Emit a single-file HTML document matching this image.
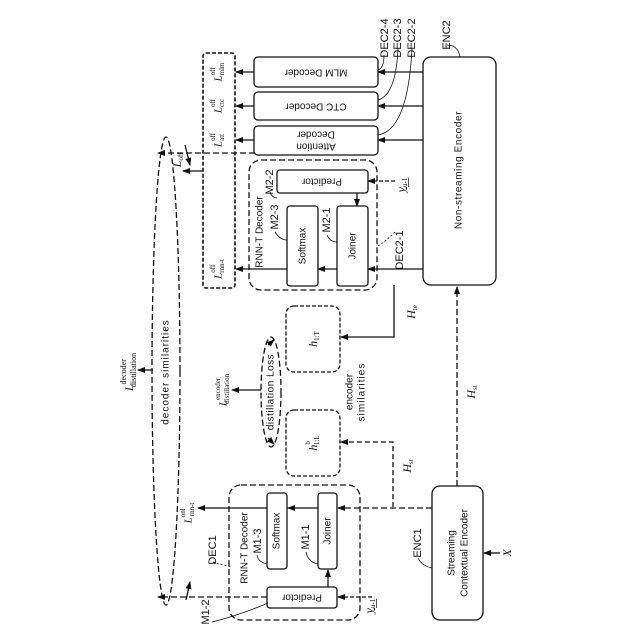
<!DOCTYPE html>
<html><head><meta charset="utf-8"><style>
html,body{margin:0;padding:0;background:#fff}
svg{display:block}
text{font-family:"Liberation Sans",sans-serif;fill:#111}
.s{font-family:"Liberation Serif",serif;font-style:italic}
</style></head><body>
<svg width="640" height="640" viewBox="0 0 640 640" xmlns="http://www.w3.org/2000/svg">
<defs>
<marker id="a" markerWidth="8" markerHeight="6" refX="7" refY="3" orient="auto" markerUnits="userSpaceOnUse"><path d="M0,0 L8,3 L0,6 z" fill="#111"/></marker>
</defs>
<g fill="none" stroke="#111" stroke-width="1.3">
<rect x="423" y="57" width="73" height="228" rx="8"/>
<rect x="254" y="57" width="124" height="30" rx="4"/>
<rect x="254" y="92" width="124" height="28" rx="4"/>
<rect x="254" y="126" width="124" height="29" rx="4"/>
<line x1="423" y1="72" x2="378" y2="72" marker-end="url(#a)"/>
<line x1="423" y1="106" x2="378" y2="106" marker-end="url(#a)"/>
<line x1="423" y1="140" x2="378" y2="140" marker-end="url(#a)"/>
<line x1="254" y1="72" x2="236" y2="72" marker-end="url(#a)"/>
<line x1="254" y1="106" x2="236" y2="106" marker-end="url(#a)"/>
<line x1="254" y1="140" x2="236" y2="140" marker-end="url(#a)"/>
<rect x="203" y="53" width="32" height="235" rx="3" stroke-dasharray="4,2" stroke-width="1.6"/>
<line x1="255" y1="153" x2="158" y2="153" stroke-dasharray="6,3" marker-end="url(#a)"/>
<line x1="203" y1="171" x2="183" y2="171" marker-end="url(#a)"/>
<rect x="249" y="160" width="128" height="130" rx="12" stroke-dasharray="6,3"/>
<rect x="277" y="170" width="91" height="23" rx="3"/>
<rect x="337" y="206" width="31" height="80" rx="3"/>
<rect x="287" y="206" width="31" height="80" rx="3"/>
<line x1="357" y1="193" x2="357" y2="206" marker-end="url(#a)"/>
<line x1="395" y1="181" x2="368" y2="181" stroke-dasharray="4,2" marker-end="url(#a)"/>
<line x1="423" y1="269" x2="368" y2="269" marker-end="url(#a)"/>
<line x1="337" y1="269" x2="318" y2="269" marker-end="url(#a)"/>
<line x1="287" y1="269" x2="236" y2="269" marker-end="url(#a)"/>
<path d="M395,232 Q385,242 378,246" stroke-width="0.8" stroke-dasharray="2,2"/>
<path d="M384,55 Q384,68 378,70" stroke-width="0.8"/>
<path d="M398,48 Q396,95 378,100" stroke-width="0.8"/>
<path d="M412,48 Q408,130 378,135" stroke-width="0.8"/>
<path d="M447,45 Q458,45 460,57" stroke-width="0.8"/>
<polyline points="394,285 394,337 341,337" marker-end="url(#a)"/>
<rect x="286" y="306" width="54" height="66" rx="8" stroke-dasharray="4,2"/>
<rect x="286" y="410" width="54" height="66" rx="8" stroke-dasharray="4,2"/>
<polyline points="393,507 393,442 341,442" stroke-dasharray="5,3" marker-end="url(#a)"/>
<ellipse cx="271" cy="392" rx="10" ry="55" stroke-dasharray="6,3"/>
<line x1="261" y1="390" x2="232" y2="390" marker-end="url(#a)"/>
<rect x="432" y="486" width="51" height="134" rx="8"/>
<line x1="457" y1="486" x2="457" y2="287" stroke-dasharray="6,3" marker-end="url(#a)"/>
<line x1="500" y1="553" x2="484" y2="553" marker-end="url(#a)"/>
<rect x="229" y="485" width="131" height="135" rx="12" stroke-dasharray="6,3"/>
<rect x="318" y="493" width="19" height="76" rx="3"/>
<rect x="267" y="493" width="20" height="76" rx="3"/>
<rect x="267" y="587" width="70" height="21" rx="3"/>
<line x1="432" y1="508" x2="338" y2="508" stroke-dasharray="6,3" marker-end="url(#a)"/>
<line x1="318" y1="508" x2="288" y2="508" marker-end="url(#a)"/>
<line x1="267" y1="508" x2="198" y2="508" marker-end="url(#a)"/>
<line x1="328" y1="587" x2="328" y2="570" marker-end="url(#a)"/>
<line x1="372" y1="597" x2="338" y2="597" stroke-dasharray="4,2" marker-end="url(#a)"/>
<line x1="267" y1="597" x2="158" y2="597" stroke-dasharray="6,3" marker-end="url(#a)"/>
<path d="M212,622 Q240,615 268,603" stroke-width="0.8"/>
<path d="M257,555 Q258,562 267,564" stroke-width="0.8"/>
<path d="M306,552 Q308,562 318,564" stroke-width="0.8"/>
<path d="M213,562 Q222,565 232,567" stroke-width="0.8" stroke-dasharray="2,2"/>
<path d="M418,558 Q422,566 432,568" stroke-width="0.8"/>
<path d="M270,192 Q272,198 277,198" stroke-width="0.8"/>
<path d="M275,232 Q280,240 287,240" stroke-width="0.8"/>
<path d="M327,235 Q330,242 337,242" stroke-width="0.8"/>
<ellipse cx="166" cy="371" rx="14" ry="234" stroke-dasharray="6,3"/>
<line x1="153" y1="370" x2="138" y2="370" marker-end="url(#a)"/>
<line x1="185" y1="145" x2="190" y2="165" marker-end="url(#a)"/>
<line x1="186" y1="600" x2="190" y2="582" marker-end="url(#a)"/>
<line x1="268" y1="345" x2="274" y2="340" marker-end="url(#a)"/>
<line x1="268" y1="438" x2="274" y2="444" marker-end="url(#a)"/>
</g>
<g font-size="10">
<text transform="translate(316,72) rotate(180)" text-anchor="middle" dominant-baseline="middle">MLM Decoder</text>
<text transform="translate(316,106) rotate(180)" text-anchor="middle" dominant-baseline="middle">CTC Decoder</text>
<text transform="translate(316,146) rotate(180)" text-anchor="middle" dominant-baseline="middle">Attention</text>
<text transform="translate(316,134) rotate(180)" text-anchor="middle" dominant-baseline="middle">Decoder</text>
<text transform="translate(322,181) rotate(180)" text-anchor="middle" dominant-baseline="middle">Predictor</text>
<text transform="translate(302,597) rotate(180)" text-anchor="middle" dominant-baseline="middle">Predictor</text>
<g text-anchor="middle" dominant-baseline="middle">
<text transform="translate(459,170) rotate(-90)" letter-spacing="0.6">Non-streaming Encoder</text>
<text transform="translate(353,246) rotate(-90)">Joiner</text>
<text transform="translate(303,246) rotate(-90)">Softmax</text>
<text transform="translate(328,531) rotate(-90)">Joiner</text>
<text transform="translate(277,531) rotate(-90)">Softmax</text>
<text transform="translate(260,232) rotate(-90)">RNN-T Decoder</text>
<text transform="translate(245,548) rotate(-90)">RNN-T Decoder</text>
<text transform="translate(452,553) rotate(-90)">Streaming</text>
<text transform="translate(465,553) rotate(-90)">Contextual Encoder</text>
<text transform="translate(271,392) rotate(-90)" letter-spacing="0.5">distillation Loss</text>
<text transform="translate(350,392) rotate(-90)">encoder</text>
<text transform="translate(362,392) rotate(-90)" letter-spacing="1">similarities</text>
<text transform="translate(166,372) rotate(-90)" letter-spacing="1">decoder similarities</text>
<text transform="translate(385,38) rotate(-90)" font-size="11">DEC2-4</text>
<text transform="translate(398,38) rotate(-90)" font-size="11">DEC2-3</text>
<text transform="translate(412,38) rotate(-90)" font-size="11">DEC2-2</text>
<text transform="translate(447,35) rotate(-90)" font-size="11">ENC2</text>
<text transform="translate(400,250) rotate(-90)" font-size="11">DEC2-1</text>
<text transform="translate(270,182) rotate(-90)" font-size="11">M2-2</text>
<text transform="translate(275,217) rotate(-90)" font-size="11">M2-3</text>
<text transform="translate(327,220) rotate(-90)" font-size="11">M2-1</text>
<text transform="translate(213,550) rotate(-90)" font-size="11">DEC1</text>
<text transform="translate(258,541) rotate(-90)" font-size="11">M1-3</text>
<text transform="translate(306,537) rotate(-90)" font-size="11">M1-1</text>
<text transform="translate(206,612) rotate(-90)" font-size="11">M1-2</text>
<text transform="translate(418,543) rotate(-90)" font-size="11">ENC1</text>
<text class="s" transform="translate(314,339) rotate(-90)" font-size="12">h<tspan font-size="7" dy="3" font-style="normal">1:T</tspan></text>
<text class="s" transform="translate(314,443) rotate(-90)" font-size="12">h<tspan font-size="7" dy="-6" font-style="normal">b</tspan><tspan font-size="7" dy="9" dx="-4" font-style="normal">1:L</tspan></text>
<text class="s" transform="translate(412,312) rotate(-90)" font-size="12">H<tspan font-size="7" dy="3" font-style="normal">te</tspan></text>
<text class="s" transform="translate(408,466) rotate(-90)" font-size="12">H<tspan font-size="7" dy="3" font-style="normal">st</tspan></text>
<text class="s" transform="translate(472,392) rotate(-90)" font-size="12">H<tspan font-size="7" dy="3" font-style="normal">st</tspan></text>
<text class="s" transform="translate(508,553) rotate(-90)" font-size="12">X</text>
<text class="s" transform="translate(402,185) rotate(-90)" font-size="12" text-decoration="underline">y<tspan font-size="7" dy="3" font-style="normal">u-1</tspan></text>
<text class="s" transform="translate(370,606) rotate(-90)" font-size="12" text-decoration="underline">y<tspan font-size="7" dy="3" font-style="normal">u-1</tspan></text>
<text class="s" transform="translate(178,160) rotate(-90)" font-size="12">L<tspan font-size="7" dy="3" font-style="normal">off</tspan></text>
<text class="s" transform="translate(219,72) rotate(-90)" font-size="11">L<tspan font-size="7" dy="-6" font-style="normal">off</tspan><tspan font-size="7" dy="9" dx="-8" font-style="normal">mlm</tspan></text>
<text class="s" transform="translate(219,106) rotate(-90)" font-size="11">L<tspan font-size="7" dy="-6" font-style="normal">off</tspan><tspan font-size="7" dy="9" dx="-8" font-style="normal">ctc</tspan></text>
<text class="s" transform="translate(219,140) rotate(-90)" font-size="11">L<tspan font-size="7" dy="-6" font-style="normal">off</tspan><tspan font-size="7" dy="9" dx="-8" font-style="normal">att</tspan></text>
<text class="s" transform="translate(219,269) rotate(-90)" font-size="11">L<tspan font-size="7" dy="-6" font-style="normal">off</tspan><tspan font-size="7" dy="9" dx="-8" font-style="normal">rnn-t</tspan></text>
<text class="s" transform="translate(189,513) rotate(-90)" font-size="11">L<tspan font-size="7" dy="-6" font-style="normal">onl</tspan><tspan font-size="7" dy="9" dx="-8" font-style="normal">rnn-t</tspan></text>
<text class="s" transform="translate(224,390) rotate(-90)" font-size="11">L<tspan font-size="7" dy="-6" font-style="normal">encoder</tspan><tspan font-size="7" dy="9" dx="-26" font-style="normal">distillation</tspan></text>
<text class="s" transform="translate(130,372) rotate(-90)" font-size="12">L<tspan font-size="8" dy="-6" font-style="normal">decoder</tspan><tspan font-size="8" dy="10" dx="-28" font-style="normal">distillation</tspan></text>
</g>
</g>
</svg>
</body></html>
